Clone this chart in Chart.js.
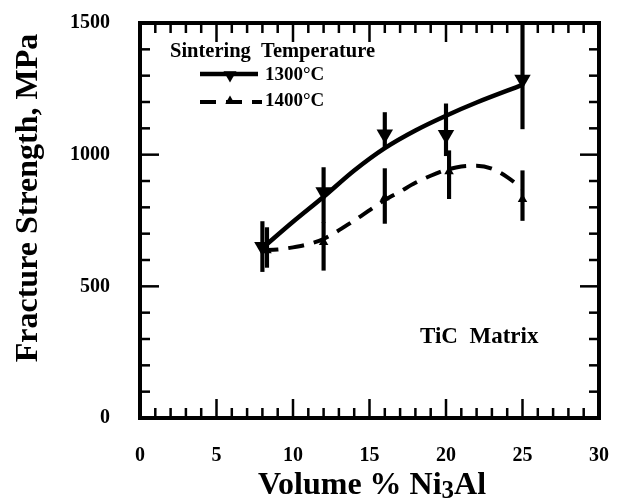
<!DOCTYPE html>
<html lang="en">
<head>
<meta charset="UTF-8">
<title>Fracture Strength vs Volume % Ni3Al</title>
<style>
  body { margin: 0; background: #fff; }
  #chart { display: block; }
</style>
</head>
<body>
<canvas id="chart" width="626" height="499"></canvas>

<script src="https://cdn.jsdelivr.net/npm/chart.js"></script>
<script>
// measured points, volume % Ni3Al vs MPa
const vol1300 = [8, 12, 16, 20, 25];
const str1300 = [650, 858, 1078, 1076, 1285];
const lo1300 = [556, 742, 1030, 996, 1098];
const hi1300 = [746, 951, 1160, 1193, 1500];

const vol1400 = [8.3, 12, 16, 20.2, 25];
const str1400 = [636, 667, 837, 936, 831];
const lo1400 = [572, 561, 739, 833, 750];
const hi1400 = [723, 742, 947, 1015, 939];

// hand drawn trend curves
const fitX1300 = [8, 10, 12, 14, 16, 18, 20, 22, 25];
const fit1300 = [645, 745, 840, 940, 1025, 1092, 1148, 1198, 1265];
const fitX1400 = [8, 9, 10, 11, 12, 14, 16, 17, 18, 19, 20, 21, 22, 23, 24, 25];
const fit1400 = [638, 640, 648, 660, 680, 750, 828, 860, 893, 920, 942, 955, 958, 947, 915, 870];

const xTicks = [0, 5, 10, 15, 20, 25, 30];
const yTicks = [0, 500, 1000, 1500];

const seriesLabels = ['1300°C', '1400°C'];
const legendTitle = 'Sintering  Temperature';
const note = 'TiC  Matrix';
const xTitle = ['Volume % Ni', '3', 'Al'];   // middle part is the subscript
const yTitle = 'Fracture Strength, MPa';

const SERIF = '"Liberation Serif", "DejaVu Serif", serif';

function pts(xs, ys) {
    return xs.map((x, i) => ({ x: x, y: ys[i] }));
}
function bars(xs, lo, hi) {
    return xs.map((x, i) => ({ x: x, y: [lo[i], hi[i]] }));
}
// keep tick labels from pushing the plot frame around
function noOverhang(scale) {
    scale.paddingTop = 0;
    scale.paddingBottom = 0;
    scale.paddingLeft = 0;
    scale.paddingRight = 0;
}

// frame, inward ticks, legend and text
const decorations = {
    id: 'decorations',
    afterDatasetsDraw(chart) {
        const { ctx, chartArea: a, scales: { x, y } } = chart;
        const H = Chart.helpers;
        ctx.save();
        ctx.strokeStyle = '#000';
        ctx.fillStyle = '#000';

        function seg(x1, y1, x2, y2) {
            ctx.beginPath();
            ctx.moveTo(x1, y1);
            ctx.lineTo(x2, y2);
            ctx.stroke();
        }

        ctx.lineWidth = 2.5;
        for (let v = xTicks[0]; v <= xTicks[xTicks.length - 1]; v += 1) {
            const px = x.getPixelForValue(v);
            const len = xTicks.includes(v) ? 19 : 10;
            seg(px, a.bottom, px, a.bottom - len);
            seg(px, a.top, px, a.top + len);
        }
        for (let v = yTicks[0]; v <= yTicks[yTicks.length - 1]; v += 100) {
            const py = y.getPixelForValue(v);
            const len = yTicks.includes(v) ? 19 : 10;
            seg(a.left, py, a.left + len, py);
            seg(a.right, py, a.right - len, py);
        }
        ctx.lineWidth = 4;
        ctx.strokeRect(a.left, a.top, a.right - a.left, a.bottom - a.top);

        // legend
        ctx.font = 'bold 20.5px ' + SERIF;
        ctx.textBaseline = 'alphabetic';
        ctx.fillText(legendTitle, 170, 57);

        const d1 = chart.data.datasets[0];
        const d2 = chart.data.datasets[1];
        ctx.lineWidth = d1.borderWidth;
        seg(200, 74, 258, 74);
        H.drawPoint(ctx, { pointStyle: 'triangle', rotation: 180, radius: 7.5, borderWidth: 0 }, 230, 75);
        ctx.lineWidth = d2.borderWidth;
        ctx.setLineDash(d2.borderDash);
        seg(200, 102, 262, 102);
        ctx.setLineDash([]);
        H.drawPoint(ctx, { pointStyle: 'triangle', rotation: 0, radius: 5.5, borderWidth: 0 }, 230, 101);

        ctx.font = 'bold 19px ' + SERIF;
        ctx.fillText(seriesLabels[0], 265, 80);
        ctx.fillText(seriesLabels[1], 265, 106);

        ctx.font = 'bold 23px ' + SERIF;
        ctx.fillText(note, 420, 343);

        // x title with a lowered "3"
        const big = 'bold 32px ' + SERIF;
        const small = 'bold 25px ' + SERIF;
        ctx.font = big;
        const w0 = ctx.measureText(xTitle[0]).width;
        const w2 = ctx.measureText(xTitle[2]).width;
        ctx.font = small;
        const w1 = ctx.measureText(xTitle[1]).width;
        let tx = 372 - (w0 + w1 + w2) / 2;
        ctx.font = big;
        ctx.fillText(xTitle[0], tx, 494);
        tx += w0;
        ctx.font = small;
        ctx.fillText(xTitle[1], tx, 498);
        tx += w1;
        ctx.font = big;
        ctx.fillText(xTitle[2], tx, 494);

        // y title
        ctx.textAlign = 'center';
        ctx.translate(37, 198);
        ctx.rotate(-Math.PI / 2);
        ctx.fillText(yTitle, 0, 0);
        ctx.restore();
    }
};

const ctx = document.getElementById('chart').getContext('2d');
new Chart(ctx, {
    type: 'line',
    data: {
        datasets: [
            {
                label: seriesLabels[0] + ' fit',
                data: pts(fitX1300, fit1300),
                borderColor: '#000',
                borderWidth: 4.5,
                pointRadius: 0,
                cubicInterpolationMode: 'monotone',
                fill: false
            },
            {
                label: seriesLabels[1] + ' fit',
                data: pts(fitX1400, fit1400),
                borderColor: '#000',
                borderWidth: 4,
                borderDash: [16, 10],
                pointRadius: 0,
                cubicInterpolationMode: 'monotone',
                fill: false
            },
            {
                type: 'bar',
                label: seriesLabels[0] + ' error',
                data: bars(vol1300, lo1300, hi1300),
                backgroundColor: '#000',
                barThickness: 3.5,
                grouped: false
            },
            {
                type: 'bar',
                label: seriesLabels[1] + ' error',
                data: bars(vol1400, lo1400, hi1400),
                backgroundColor: '#000',
                barThickness: 3.5,
                grouped: false
            },
            {
                label: seriesLabels[0],
                data: pts(vol1300, str1300),
                showLine: false,
                pointStyle: 'triangle',
                rotation: 180,
                pointRadius: 9.5,
                pointBorderWidth: 0,
                pointBackgroundColor: '#000'
            },
            {
                label: seriesLabels[1],
                data: pts(vol1400, str1400),
                showLine: false,
                pointStyle: 'triangle',
                pointRadius: 5.5,
                pointBorderWidth: 0,
                pointBackgroundColor: '#000'
            }
        ]
    },
    options: {
        responsive: false,
        animation: false,
        layout: { padding: { top: 23, right: 27, left: 0, bottom: 0 } },
        plugins: {
            legend: { display: false },
            tooltip: { enabled: false }
        },
        scales: {
            x: {
                type: 'linear',
                min: xTicks[0],
                max: xTicks[xTicks.length - 1],
                offset: false,
                afterBuildTicks: (scale) => { scale.ticks = xTicks.map(v => ({ value: v })); },
                afterFit: (scale) => { scale.height = 81; noOverhang(scale); },
                grid: { display: false, drawTicks: false },
                border: { display: false },
                ticks: {
                    color: '#000',
                    padding: 26,
                    maxRotation: 0,
                    callback: (v) => String(v),
                    font: { family: SERIF, size: 20, weight: 'bold' }
                }
            },
            y: {
                min: yTicks[0],
                max: yTicks[yTicks.length - 1],
                afterBuildTicks: (scale) => { scale.ticks = yTicks.map(v => ({ value: v })); },
                afterFit: (scale) => { scale.width = 140; noOverhang(scale); },
                grid: { display: false, drawTicks: false },
                border: { display: false },
                ticks: {
                    color: '#000',
                    padding: 30,
                    callback: (v) => String(v),
                    font: { family: SERIF, size: 20, weight: 'bold' }
                }
            }
        }
    },
    plugins: [decorations]
});
</script>
</body>
</html>
